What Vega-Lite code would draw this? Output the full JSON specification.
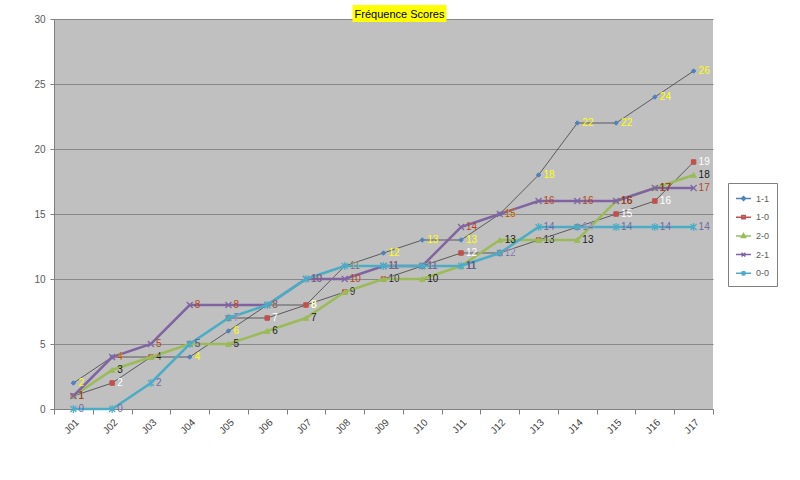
{
  "$schema": "https://vega.github.io/schema/vega-lite/v6.json",
  "width": 659,
  "height": 390,
  "autosize": {"type": "none"},
  "padding": {"left": 54, "top": 19, "right": 87, "bottom": 71},
  "background": "white",
  "title": {
    "text": "Fréquence Scores",
    "font": "Liberation Sans",
    "fontSize": 11,
    "fontWeight": "normal",
    "color": "#000000",
    "anchor": "middle",
    "frame": "group",
    "offset": 14,
    "dx": 16,
    "dy": 29,
    "baseline": "alphabetic",
    "encode": {
      "group": {
        "update": {
          "stroke": {"value": "#FFFF00"},
          "strokeWidth": {"value": 94},
          "strokeOffset": {"value": 16},
          "width": {"value": 0},
          "height": {"value": 17}
        }
      }
    }
  },
  "data": {
    "values": [
      {"j": "J01", "s": "1-1", "v": 2}, {"j": "J02", "s": "1-1", "v": 4}, {"j": "J03", "s": "1-1", "v": 4}, {"j": "J04", "s": "1-1", "v": 4}, {"j": "J05", "s": "1-1", "v": 6}, {"j": "J06", "s": "1-1", "v": 8}, {"j": "J07", "s": "1-1", "v": 8}, {"j": "J08", "s": "1-1", "v": 11}, {"j": "J09", "s": "1-1", "v": 12}, {"j": "J10", "s": "1-1", "v": 13}, {"j": "J11", "s": "1-1", "v": 13}, {"j": "J12", "s": "1-1", "v": 15}, {"j": "J13", "s": "1-1", "v": 18}, {"j": "J14", "s": "1-1", "v": 22}, {"j": "J15", "s": "1-1", "v": 22}, {"j": "J16", "s": "1-1", "v": 24}, {"j": "J17", "s": "1-1", "v": 26},
      {"j": "J01", "s": "1-0", "v": 1}, {"j": "J02", "s": "1-0", "v": 2}, {"j": "J03", "s": "1-0", "v": 4}, {"j": "J04", "s": "1-0", "v": 5}, {"j": "J05", "s": "1-0", "v": 7}, {"j": "J06", "s": "1-0", "v": 7}, {"j": "J07", "s": "1-0", "v": 8}, {"j": "J08", "s": "1-0", "v": 9}, {"j": "J09", "s": "1-0", "v": 10}, {"j": "J10", "s": "1-0", "v": 11}, {"j": "J11", "s": "1-0", "v": 12}, {"j": "J12", "s": "1-0", "v": 12}, {"j": "J13", "s": "1-0", "v": 13}, {"j": "J14", "s": "1-0", "v": 14}, {"j": "J15", "s": "1-0", "v": 15}, {"j": "J16", "s": "1-0", "v": 16}, {"j": "J17", "s": "1-0", "v": 19},
      {"j": "J01", "s": "2-0", "v": 1}, {"j": "J02", "s": "2-0", "v": 3}, {"j": "J03", "s": "2-0", "v": 4}, {"j": "J04", "s": "2-0", "v": 5}, {"j": "J05", "s": "2-0", "v": 5}, {"j": "J06", "s": "2-0", "v": 6}, {"j": "J07", "s": "2-0", "v": 7}, {"j": "J08", "s": "2-0", "v": 9}, {"j": "J09", "s": "2-0", "v": 10}, {"j": "J10", "s": "2-0", "v": 10}, {"j": "J11", "s": "2-0", "v": 11}, {"j": "J12", "s": "2-0", "v": 13}, {"j": "J13", "s": "2-0", "v": 13}, {"j": "J14", "s": "2-0", "v": 13}, {"j": "J15", "s": "2-0", "v": 16}, {"j": "J16", "s": "2-0", "v": 17}, {"j": "J17", "s": "2-0", "v": 18},
      {"j": "J01", "s": "2-1", "v": 1}, {"j": "J02", "s": "2-1", "v": 4}, {"j": "J03", "s": "2-1", "v": 5}, {"j": "J04", "s": "2-1", "v": 8}, {"j": "J05", "s": "2-1", "v": 8}, {"j": "J06", "s": "2-1", "v": 8}, {"j": "J07", "s": "2-1", "v": 10}, {"j": "J08", "s": "2-1", "v": 10}, {"j": "J09", "s": "2-1", "v": 11}, {"j": "J10", "s": "2-1", "v": 11}, {"j": "J11", "s": "2-1", "v": 14}, {"j": "J12", "s": "2-1", "v": 15}, {"j": "J13", "s": "2-1", "v": 16}, {"j": "J14", "s": "2-1", "v": 16}, {"j": "J15", "s": "2-1", "v": 16}, {"j": "J16", "s": "2-1", "v": 17}, {"j": "J17", "s": "2-1", "v": 17},
      {"j": "J01", "s": "0-0", "v": 0}, {"j": "J02", "s": "0-0", "v": 0}, {"j": "J03", "s": "0-0", "v": 2}, {"j": "J04", "s": "0-0", "v": 5}, {"j": "J05", "s": "0-0", "v": 7}, {"j": "J06", "s": "0-0", "v": 8}, {"j": "J07", "s": "0-0", "v": 10}, {"j": "J08", "s": "0-0", "v": 11}, {"j": "J09", "s": "0-0", "v": 11}, {"j": "J10", "s": "0-0", "v": 11}, {"j": "J11", "s": "0-0", "v": 11}, {"j": "J12", "s": "0-0", "v": 12}, {"j": "J13", "s": "0-0", "v": 14}, {"j": "J14", "s": "0-0", "v": 14}, {"j": "J15", "s": "0-0", "v": 14}, {"j": "J16", "s": "0-0", "v": 14}, {"j": "J17", "s": "0-0", "v": 14}
    ]
  },
  "encoding": {
    "x": {
      "field": "j",
      "type": "nominal",
      "scale": {"type": "band", "paddingInner": 0, "paddingOuter": 0},
      "axis": {
        "title": null,
        "labelAngle": -45,
        "labelFont": "Liberation Sans",
        "labelFontSize": 10,
        "labelColor": "#404040",
        "tickBand": "extent",
        "tickSize": 5,
        "tickColor": "#808080",
        "domainColor": "#808080",
        "grid": false,
        "labelPadding": 3
      }
    },
    "y": {
      "field": "v",
      "type": "quantitative",
      "scale": {"domain": [0, 30], "nice": false},
      "axis": {
        "title": null,
        "values": [0, 5, 10, 15, 20, 25, 30],
        "grid": true,
        "gridColor": "#888888",
        "gridWidth": 1,
        "labelFont": "Liberation Sans",
        "labelFontSize": 10,
        "labelColor": "#595959",
        "tickSize": 4,
        "tickColor": "#808080",
        "domainColor": "#808080",
        "labelPadding": 5
      }
    }
  },
  "layer": [
    {
      "transform": [{"filter": {"field": "s", "oneOf": ["1-1", "1-0"]}}],
      "mark": {"type": "line", "stroke": "#404040", "strokeWidth": 0.8},
      "encoding": {"detail": {"field": "s"}}
    },
    {
      "transform": [{"filter": {"field": "s", "equal": "1-1"}}],
      "mark": {"type": "point", "shape": "diamond", "filled": true, "fill": "#4F81BD", "stroke": "#4F81BD", "opacity": 1, "strokeWidth": 1, "size": 20}
    },
    {
      "transform": [{"filter": {"field": "s", "equal": "1-0"}}],
      "mark": {"type": "point", "shape": "square", "filled": true, "fill": "#C0504D", "stroke": "#C0504D", "opacity": 1, "strokeWidth": 1, "size": 20}
    },
    {
      "transform": [{"filter": {"field": "s", "equal": "2-0"}}],
      "mark": {"type": "line", "stroke": "#9BBB59", "strokeWidth": 2.5}
    },
    {
      "transform": [{"filter": {"field": "s", "equal": "2-0"}}],
      "mark": {"type": "point", "shape": "triangle-up", "filled": true, "fill": "#9BBB59", "stroke": "#9BBB59", "opacity": 1, "strokeWidth": 1, "size": 30}
    },
    {
      "transform": [{"filter": {"field": "s", "equal": "2-1"}}],
      "mark": {"type": "line", "stroke": "#8064A2", "strokeWidth": 2.5}
    },
    {
      "transform": [{"filter": {"field": "s", "equal": "2-1"}}],
      "mark": {"type": "point", "shape": "M-1,-1L1,1M-1,1L1,-1", "filled": false, "stroke": "#8064A2", "opacity": 1, "strokeWidth": 1.2, "size": 36}
    },
    {
      "transform": [{"filter": {"field": "s", "equal": "0-0"}}],
      "mark": {"type": "line", "stroke": "#4BACC6", "strokeWidth": 2.5}
    },
    {
      "transform": [{"filter": {"field": "s", "equal": "0-0"}}],
      "mark": {"type": "point", "shape": "M-1,-1L1,1M-1,1L1,-1M0,-1.3L0,1.3", "filled": false, "stroke": "#4BACC6", "opacity": 1, "strokeWidth": 1.2, "size": 36}
    },
    {
      "mark": {"type": "text", "align": "left", "baseline": "middle", "dx": 5, "fontSize": 10, "font": "Liberation Sans"},
      "encoding": {
        "text": {"field": "v", "type": "quantitative"},
        "fill": {"field": "s", "scale": {"domain": ["0-0", "2-1", "2-0", "1-0", "1-1"], "range": ["#6F6AA6", "#B5461E", "#1A1A1A", "#FFFFFF", "#FFFF00"]}, "legend": null}
      }
    },
    {
      "mark": {"type": "point", "filled": true, "opacity": 0, "size": 225},
      "encoding": {
        "color": {
          "field": "s",
          "scale": {"domain": ["1-1", "1-0", "2-0", "2-1", "0-0"], "range": ["#4F81BD", "#C0504D", "#9BBB59", "#8064A2", "#4BACC6"]},
          "legend": {
            "orient": "none", "legendX": 674, "legendY": 164, "title": null,
            "fillColor": "#FFFFFF", "strokeColor": "#808080", "padding": 7,
            "labelFont": "Liberation Sans", "labelFontSize": 9, "labelColor": "#595959",
            "symbolSize": 225, "symbolStrokeWidth": 1.5, "rowPadding": 4.7, "labelOffset": 4
          }
        },
        "stroke": {
          "field": "s",
          "scale": {"domain": ["1-1", "1-0", "2-0", "2-1", "0-0"], "range": ["#4F81BD", "#C0504D", "#9BBB59", "#8064A2", "#4BACC6"]},
          "legend": {
            "orient": "none", "legendX": 674, "legendY": 164, "title": null,
            "fillColor": "#FFFFFF", "strokeColor": "#808080", "padding": 7,
            "labelFont": "Liberation Sans", "labelFontSize": 9, "labelColor": "#595959",
            "symbolSize": 225, "symbolStrokeWidth": 1.5, "rowPadding": 4.7, "labelOffset": 4
          }
        },
        "shape": {
          "field": "s",
          "scale": {"domain": ["1-1", "1-0", "2-0", "2-1", "0-0"], "range": ["M-1,0L1,0M0,-0.27L0.27,0L0,0.27L-0.27,0Z", "M-1,0L1,0M-0.22,-0.22H0.22V0.22H-0.22Z", "M-1,0L1,0M0,-0.3L0.28,0.2H-0.28Z", "M-1,0L1,0M-0.25,-0.25L0.25,0.25M-0.25,0.25L0.25,-0.25", "M-1,0L1,0M-0.25,-0.25L0.25,0.25M-0.25,0.25L0.25,-0.25M0,-0.32V0.32"]},
          "legend": {
            "orient": "none", "legendX": 674, "legendY": 164, "title": null,
            "fillColor": "#FFFFFF", "strokeColor": "#808080", "padding": 7,
            "labelFont": "Liberation Sans", "labelFontSize": 9, "labelColor": "#595959",
            "symbolSize": 225, "symbolStrokeWidth": 1.5, "rowPadding": 4.7, "labelOffset": 4
          }
        }
      }
    }
  ],
  "config": {
    "view": {"fill": "#C0C0C0", "stroke": null},
    "font": "Liberation Sans"
  }
}
